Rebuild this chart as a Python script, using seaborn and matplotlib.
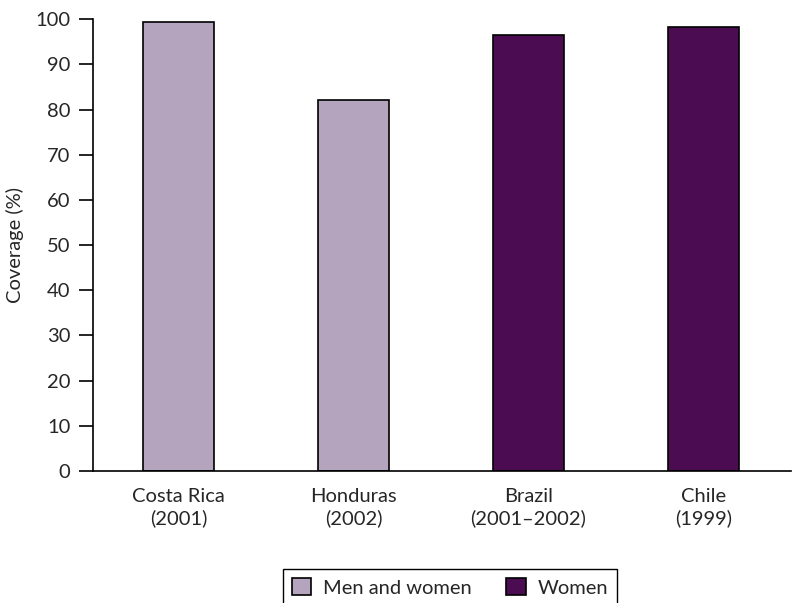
import matplotlib.pyplot as plt
import pandas as pd
import seaborn as sns

countries = ['Costa Rica\n(2001)', 'Honduras\n(2002)', 'Brazil\n(2001–2002)', 'Chile\n(1999)']
coverage = [99.3, 82.1, 96.6, 98.2]
groups = ['Men and women', 'Men and women', 'Women', 'Women']
yticks = [0, 10, 20, 30, 40, 50, 60, 70, 80, 90, 100]

df = pd.DataFrame({'Country': countries, 'Coverage': coverage, 'Group': groups})

sns.set_style('ticks')
plt.rcParams['font.family'] = ['Lato', 'DejaVu Sans']

fig = plt.figure(figsize=(7.99, 6.03), dpi=100)
ax = fig.add_axes([0.116, 0.219, 0.874, 0.749])

sns.barplot(data=df, x='Country', y='Coverage', hue='Group', dodge=False,
            palette={'Men and women': '#b6a0c2', 'Women': '#55005c'},
            edgecolor='black', linewidth=1.2, width=0.41, ax=ax)

ax.set_ylim(0, 100)
ax.set_xlim(-0.49, 3.5)
ax.set_yticks(yticks)
ax.set_xlabel('')
ax.set_ylabel('Coverage (%)', fontsize=14.5, labelpad=8)
ax.tick_params(axis='y', length=10, width=1.2, labelsize=14.5, pad=6, color='black')
ax.tick_params(axis='x', length=0, labelsize=14.5, pad=12)
for lbl in ax.get_xticklabels():
    lbl.set_linespacing(1.3)
sns.despine(ax=ax)
for s in ['left', 'bottom']:
    ax.spines[s].set_linewidth(1.2)
    ax.spines[s].set_color('black')

ax.legend(loc='upper center', bbox_to_anchor=(0.512, -0.217), ncol=2, frameon=True,
          fancybox=False, edgecolor='black', fontsize=14.5, handlelength=0.95,
          handleheight=0.95, columnspacing=1.7, handletextpad=0.6,
          borderpad=0.45, borderaxespad=0, framealpha=1)

fig.savefig('out.png', dpi=100)
